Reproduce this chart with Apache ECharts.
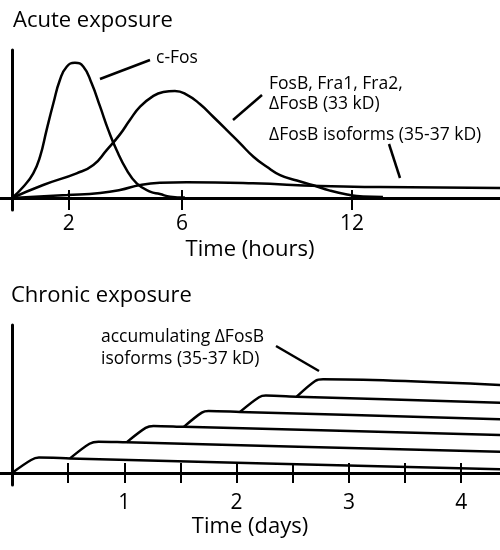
<!DOCTYPE html>
<html>
<head>
<meta charset="utf-8">
<script src="https://cdn.jsdelivr.net/npm/echarts@6.0.0/dist/echarts.min.js"></script>
<style>html,body{margin:0;padding:0;background:#fff;}#c{width:500px;height:550px;}</style>
</head>
<body>
<div id="c"></div>
<script>
// ---- data ----
const acuteTicks = [2, 6, 12];
const chronicTicks = [0.5, 1, 1.5, 2, 2.5, 3, 3.5, 4];
const chronicLabels = [1, 2, 3, 4];

// acute exposure (hours, relative level)
const cFos = [[0,0],[0.4,7.6],[0.75,16.7],[0.99,27.9],[1.22,45.9],[1.46,64.0],[1.69,79.7],[1.93,88.7],[2.22,91.4],[2.52,88.7],[2.81,77.5],[3.11,61.7],[3.4,45.9],[3.69,32.4],[4.05,18.9],[4.4,9.9],[4.87,4.3],[5.22,2.7],[5.58,0.9],[6.1,0.3]];
const fosB = [[0,0],[1.1,8.8],[2.28,16.7],[2.87,22.3],[3.34,32.4],[3.81,43.0],[4.16,52.7],[4.52,61.7],[4.99,69.0],[5.34,71.6],[5.75,72.3],[6.16,69.9],[6.63,63.5],[7.1,54.9],[7.58,45.9],[8.05,36.9],[8.52,27.9],[8.99,21.1],[9.46,15.5],[10.05,11.8],[10.63,8.6],[11.22,5.0],[11.82,2.4],[12.39,1.0],[13.09,0.7]];
const isoformsAcute = [[0,0],[1.94,2.0],[3.11,3.4],[3.81,5.4],[4.52,8.8],[5.22,10.3],[6.16,10.6],[8.5,9.9],[10.87,8.1],[12.99,7.4],[17.22,6.8]];

// chronic exposure (days, relative level)
const step1 = [[0,0],[0.17,8.8],[0.24,10.4],[0.516,9.87],[4.35,2.5]];
const step2 = [[0.516,9.87],[0.69,19.8],[0.77,21.2],[1.02,20.7],[4.35,14.4]];
const step3 = [[1.02,20.7],[1.19,30.5],[1.26,31.8],[1.53,31.2],[4.35,25.7]];
const step4 = [[1.53,31.2],[1.69,40.8],[1.75,41.9],[2.03,41.3],[4.35,36.3]];
const step5 = [[2.03,41.3],[2.2,51.2],[2.26,52.3],[2.535,51.6],[4.35,47.5]];
const step6 = [[2.535,51.6],[2.7,62.2],[2.77,63.3],[4.35,59.5]];

// ---- chart ----
const FONT = 'Open Sans';
const chart = echarts.init(document.getElementById('c'), null, {renderer: 'canvas'});

function mainX(grid, min, max, ticks, labels, name, gap, labMargin, tickLen) {
  return {
    type: 'value', gridIndex: grid, min: min, max: max, position: 'bottom',
    axisLine: {show: true, onZero: true, lineStyle: {color: '#000', width: 3}},
    axisTick: {show: true, inside: false, length: tickLen, customValues: ticks, lineStyle: {color: '#000', width: 2}},
    axisLabel: {show: true, customValues: labels, margin: labMargin, color: '#000', fontSize: 21, fontFamily: FONT},
    splitLine: {show: false},
    name: name, nameLocation: 'middle', nameGap: gap,
    nameTextStyle: {color: '#000', fontSize: 22, fontFamily: FONT}
  };
}
function innerX(grid, min, max, ticks, tickLen, yIdx) {
  return {
    type: 'value', gridIndex: grid, min: min, max: max, position: 'bottom',
    axisLine: {show: false, onZero: true, onZeroAxisIndex: yIdx},
    axisTick: {show: true, inside: true, length: tickLen, customValues: ticks, lineStyle: {color: '#000', width: 2}},
    axisLabel: {show: false},
    splitLine: {show: false}
  };
}
function yAx(grid, visible) {
  return {
    type: 'value', gridIndex: grid, min: -8.1, max: 100,
    axisLine: {show: visible, onZero: true, lineStyle: {color: '#000', width: 3}},
    axisTick: {show: false}, axisLabel: {show: false}, splitLine: {show: false}
  };
}
function line(data, xi, yi, sm) {
  return {
    type: 'line', data: data, xAxisIndex: xi, yAxisIndex: yi,
    showSymbol: false, symbol: 'none', smooth: sm,
    lineStyle: {color: '#000', width: 2.5}, silent: true
  };
}
function txt(x, y, s) {
  return {type: 'text', x: x, y: y, silent: true,
    style: {text: s, fill: '#000', fontSize: 17.5, fontFamily: FONT, align: 'left', verticalAlign: 'middle'}};
}
function lead(x1, y1, x2, y2) {
  return {type: 'line', silent: true, shape: {x1: x1, y1: y1, x2: x2, y2: y2},
    style: {stroke: '#000', lineWidth: 2.5}};
}

const option = {
  animation: false,
  backgroundColor: '#fff',
  grid: [
    {left: 0, right: 0, top: 50, height: 160},
    {left: 0, right: 0, top: 325, height: 160}
  ],
  xAxis: [
    mainX(0, -0.4234, 17.22, acuteTicks, acuteTicks, 'Time (hours)', 29, 4, 12),
    innerX(0, -0.4234, 17.22, acuteTicks, 8, 2),
    mainX(1, -0.1069, 4.3455, chronicTicks, chronicLabels, 'Time (days)', 31, 8, 10),
    innerX(1, -0.1069, 4.3455, chronicTicks, 10, 3)
  ],
  yAxis: [yAx(0, true), yAx(1, true), yAx(0, false), yAx(1, false)],
  series: [
    line(cFos, 0, 0, 0.5), line(fosB, 0, 0, 0.5), line(isoformsAcute, 0, 0, 0.5),
    line(step1, 2, 1, 0.3), line(step2, 2, 1, 0.3), line(step3, 2, 1, 0.3),
    line(step4, 2, 1, 0.3), line(step5, 2, 1, 0.3), line(step6, 2, 1, 0.3)
  ],
  graphic: [
    {type: 'text', x: 13, y: 21, silent: true, style: {text: 'Acute exposure', fill: '#000', fontSize: 22, fontFamily: FONT, verticalAlign: 'middle'}},
    {type: 'text', x: 11, y: 296, silent: true, style: {text: 'Chronic exposure', fill: '#000', fontSize: 22, fontFamily: FONT, verticalAlign: 'middle'}},
    txt(156, 58, 'c-Fos'),
    txt(269, 84, 'FosB, Fra1, Fra2,'),
    txt(269, 104, 'ΔFosB (33 kD)'),
    txt(269, 135, 'ΔFosB isoforms (35-37 kD)'),
    txt(101, 337, 'accumulating ΔFosB'),
    txt(101, 359, 'isoforms (35-37 kD)'),
    lead(100, 79, 150, 60),
    lead(233, 120, 262, 95),
    lead(389, 144, 400, 178),
    lead(276, 346, 319, 371)
  ]
};
chart.setOption(option);
</script>
</body>
</html>
